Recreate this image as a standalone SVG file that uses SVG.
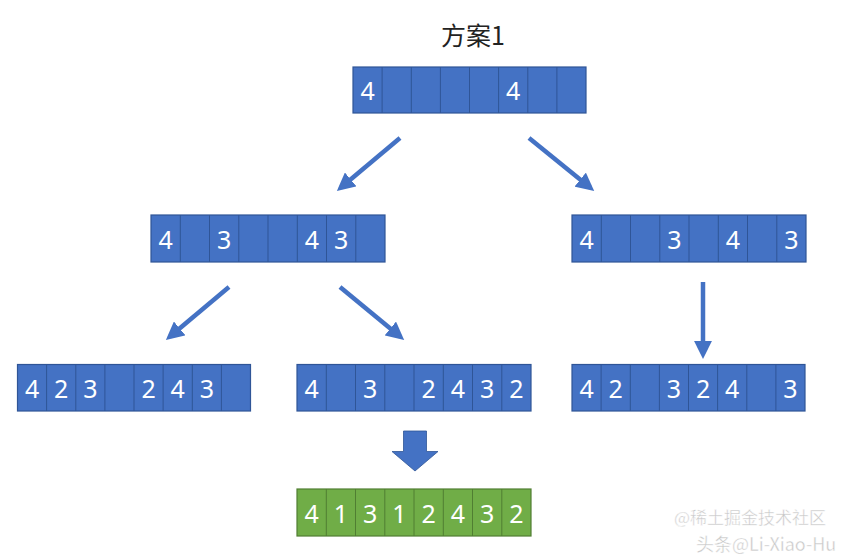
<svg xmlns="http://www.w3.org/2000/svg" width="856" height="555" viewBox="0 0 856 555">
<style>
.b{fill:#4472C4;stroke:#2F5597;stroke-width:1.2}
.g{fill:#70AD47;stroke:#507E32;stroke-width:1.2}
.d{stroke:#2F5597;stroke-width:1}
.dg{stroke:#507E32;stroke-width:1}
.n{font-family:"Noto Sans","Liberation Sans",sans-serif;font-size:25px;fill:#fff;text-anchor:middle}
.t{font-family:"Noto Sans CJK SC","Noto Sans",sans-serif;font-size:25px;fill:#222;text-anchor:middle}
.c{stroke:#4472C4;stroke-width:4.5;fill:none;marker-end:url(#ah)}
.w{font-family:"Noto Sans CJK SC","Noto Sans",sans-serif;fill:#c8c8c8;stroke:#fff;stroke-width:0.4}
</style>
<defs>
<marker id="ah" viewBox="0 0 10 10" refX="7" refY="5" markerWidth="4" markerHeight="4" orient="auto" markerUnits="strokeWidth">
<path d="M0,0 L10,5 L0,10 Z" fill="#4472C4"/>
</marker>
</defs>
<rect width="856" height="555" fill="#fff"/>
<text class="t" x="473" y="45">方案1</text>

<g id="top">
<rect class="b" x="353" y="67" width="233" height="46"/>
<path class="d" d="M382.1,67V113M411.3,67V113M440.4,67V113M469.5,67V113M498.6,67V113M527.8,67V113M556.9,67V113"/>
<text class="n" x="367.6" y="100">4</text>
<text class="n" x="513.2" y="100">4</text>
</g>

<g id="mid-left">
<rect class="b" x="151" y="215" width="234" height="47"/>
<path class="d" d="M180.3,215V262M209.5,215V262M238.8,215V262M268,215V262M297.3,215V262M326.5,215V262M355.8,215V262"/>
<text class="n" x="165.6" y="249">4</text>
<text class="n" x="224.1" y="249">3</text>
<text class="n" x="311.9" y="249">4</text>
<text class="n" x="341.1" y="249">3</text>
</g>

<g id="mid-right">
<rect class="b" x="572" y="215" width="234" height="47"/>
<path class="d" d="M601.3,215V262M630.5,215V262M659.8,215V262M689,215V262M718.3,215V262M747.5,215V262M776.8,215V262"/>
<text class="n" x="586.6" y="249">4</text>
<text class="n" x="674.4" y="249">3</text>
<text class="n" x="732.9" y="249">4</text>
<text class="n" x="791.4" y="249">3</text>
</g>

<g id="bot-left">
<rect class="b" x="17.5" y="364.5" width="233" height="46.5"/>
<path class="d" d="M46.6,364.5V411M75.8,364.5V411M104.9,364.5V411M134,364.5V411M163.1,364.5V411M192.3,364.5V411M221.4,364.5V411"/>
<text class="n" x="32.1" y="398">4</text>
<text class="n" x="61.2" y="398">2</text>
<text class="n" x="90.3" y="398">3</text>
<text class="n" x="148.6" y="398">2</text>
<text class="n" x="177.7" y="398">4</text>
<text class="n" x="206.8" y="398">3</text>
</g>

<g id="bot-mid">
<rect class="b" x="297" y="364.5" width="234" height="46.5"/>
<path class="d" d="M326.3,364.5V411M355.5,364.5V411M384.8,364.5V411M414,364.5V411M443.3,364.5V411M472.5,364.5V411M501.8,364.5V411"/>
<text class="n" x="311.6" y="398">4</text>
<text class="n" x="370.1" y="398">3</text>
<text class="n" x="428.6" y="398">2</text>
<text class="n" x="457.9" y="398">4</text>
<text class="n" x="487.1" y="398">3</text>
<text class="n" x="516.4" y="398">2</text>
</g>

<g id="bot-right">
<rect class="b" x="572" y="364.5" width="233" height="46.5"/>
<path class="d" d="M601.1,364.5V411M630.3,364.5V411M659.4,364.5V411M688.5,364.5V411M717.6,364.5V411M746.8,364.5V411M775.9,364.5V411"/>
<text class="n" x="586.6" y="398">4</text>
<text class="n" x="615.7" y="398">2</text>
<text class="n" x="673.9" y="398">3</text>
<text class="n" x="703.1" y="398">2</text>
<text class="n" x="732.2" y="398">4</text>
<text class="n" x="790.4" y="398">3</text>
</g>

<g id="result">
<rect class="g" x="297" y="489" width="234" height="47"/>
<path class="dg" d="M326.3,489V536M355.5,489V536M384.8,489V536M414,489V536M443.3,489V536M472.5,489V536M501.8,489V536"/>
<text class="n" x="311.6" y="523">4</text>
<text class="n" x="340.9" y="523">1</text>
<text class="n" x="370.1" y="523">3</text>
<text class="n" x="399.4" y="523">1</text>
<text class="n" x="428.6" y="523">2</text>
<text class="n" x="457.9" y="523">4</text>
<text class="n" x="487.1" y="523">3</text>
<text class="n" x="516.4" y="523">2</text>
</g>

<g id="connectors">
<line class="c" x1="400" y1="138" x2="341" y2="187.5"/>
<line class="c" x1="529" y1="138" x2="590" y2="187.5"/>
<line class="c" x1="229" y1="287" x2="170" y2="336.5"/>
<line class="c" x1="340" y1="287" x2="400" y2="336.5"/>
<line class="c" x1="703" y1="282" x2="703" y2="353.5"/>
<path d="M403.5,431H426.5V451.5H438L415,471L392,451.5H403.5Z" fill="#4472C4" stroke="#2F5597" stroke-width="0.8"/>
</g>

<g id="watermark">
<text class="w" x="674" y="524" font-size="17">@稀土掘金技术社区</text>
<text class="w" x="696" y="551" font-size="18">头条@Li-Xiao-Hu</text>
</g>
</svg>
